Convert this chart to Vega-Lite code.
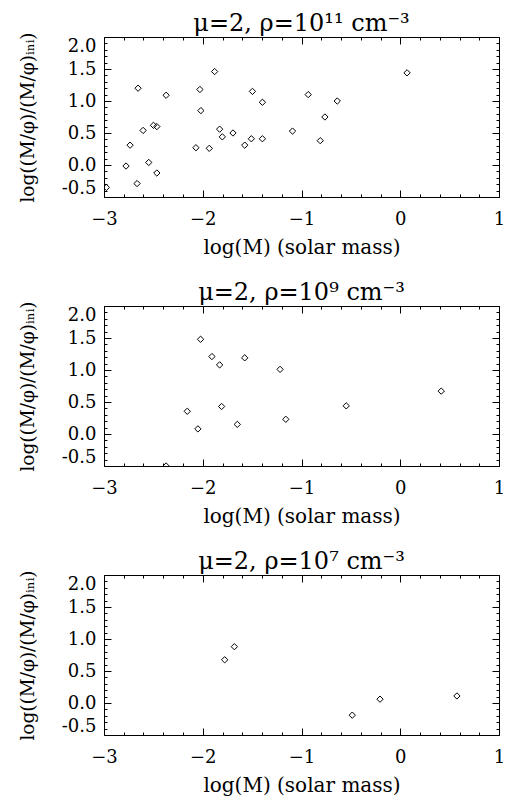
{
  "$schema": "https://vega.github.io/schema/vega-lite/v6.json",
  "background": "white",
  "padding": {"left": 17, "top": 11, "right": 14, "bottom": 0},
  "spacing": 109,
  "bounds": "flush",
  "config": {
    "font": "DejaVu Serif",
    "view": {"stroke": "black", "strokeWidth": 1},
    "axis": {"domain": false, "grid": false, "tickColor": "black", "tickWidth": 1, "labelColor": "black", "labelFont": "DejaVu Serif", "labelFontSize": 18, "titleFont": "DejaVu Serif", "titleFontSize": 20, "titleFontWeight": "normal", "titleColor": "black", "labelPadding": 20},
    "axisY": {"labelPadding": 15, "titleFontSize": 18.5},
    "title": {"font": "DejaVu Serif", "fontSize": 24, "fontWeight": "normal", "color": "black", "offset": -4}
  },
  "datasets": {
    "p1": [
      {"x": -2.976, "y": -0.35}, {"x": -2.777, "y": -0.016}, {"x": -2.736, "y": 0.31}, {"x": -2.665, "y": -0.29},
      {"x": -2.655, "y": 1.2}, {"x": -2.604, "y": 0.54}, {"x": -2.547, "y": 0.04}, {"x": -2.499, "y": 0.62},
      {"x": -2.465, "y": 0.6}, {"x": -2.465, "y": -0.125}, {"x": -2.371, "y": 1.09}, {"x": -2.069, "y": 0.27},
      {"x": -2.029, "y": 1.18}, {"x": -2.019, "y": 0.85}, {"x": -1.934, "y": 0.26}, {"x": -1.88, "y": 1.46},
      {"x": -1.829, "y": 0.56}, {"x": -1.802, "y": 0.44}, {"x": -1.694, "y": 0.5}, {"x": -1.575, "y": 0.31},
      {"x": -1.508, "y": 0.41}, {"x": -1.497, "y": 1.15}, {"x": -1.396, "y": 0.41}, {"x": -1.396, "y": 0.98},
      {"x": -1.091, "y": 0.53}, {"x": -0.932, "y": 1.1}, {"x": -0.81, "y": 0.38}, {"x": -0.763, "y": 0.75},
      {"x": -0.638, "y": 1.0}, {"x": 0.069, "y": 1.44}
    ],
    "p2": [
      {"x": -2.371, "y": -0.5}, {"x": -2.157, "y": 0.355}, {"x": -2.049, "y": 0.08}, {"x": -2.022, "y": 1.48},
      {"x": -1.907, "y": 1.21}, {"x": -1.829, "y": 1.08}, {"x": -1.809, "y": 0.43}, {"x": -1.65, "y": 0.15},
      {"x": -1.575, "y": 1.19}, {"x": -1.217, "y": 1.01}, {"x": -1.159, "y": 0.23}, {"x": -0.547, "y": 0.44},
      {"x": 0.415, "y": 0.67}
    ],
    "p3": [
      {"x": -1.778, "y": 0.675}, {"x": -1.68, "y": 0.88}, {"x": -0.486, "y": -0.19}, {"x": -0.205, "y": 0.06},
      {"x": 0.574, "y": 0.11}
    ]
  },
  "vconcat": [
    {
      "width": 395, "height": 160,
      "title": {"text": "μ=2, ρ=10¹¹ cm⁻³"},
      "data": {"name": "p1"},
      "layer": [
        {
          "mark": {"type": "point", "shape": "diamond", "filled": false, "stroke": "black", "strokeWidth": 1, "size": 40, "clip": true, "opacity": 1},
          "encoding": {
            "x": {"field": "x", "type": "quantitative", "scale": {"domain": [-3, 1], "nice": false, "zero": false},
              "axis": {"orient": "bottom", "values": [-3,-2.8,-2.6,-2.4,-2.2,-2,-1.8,-1.6,-1.4,-1.2,-1,-0.8,-0.6,-0.4,-0.2,0,0.2,0.4,0.6,0.8,1],
                "labelExpr": "abs(datum.value-round(datum.value))<0.001 ? (datum.value < -0.001 ? '−' + abs(round(datum.value)) : '' + round(datum.value)) : ''",
                "tickSize": {"condition": {"test": "abs(datum.value-round(datum.value))<0.001", "value": -7}, "value": -3},
                "title": "log(M) (solar mass)", "titlePadding": 9, "labelFlush": false}},
            "y": {"field": "y", "type": "quantitative", "scale": {"domain": [-0.5, 2.0], "nice": false, "zero": false},
              "axis": {"orient": "left", "values": [-0.5,-0.4,-0.3,-0.2,-0.1,0,0.1,0.2,0.3,0.4,0.5,0.6,0.7,0.8,0.9,1,1.1,1.2,1.3,1.4,1.5,1.6,1.7,1.8,1.9,2],
                "labelExpr": "abs(datum.value*2-round(datum.value*2))<0.001 ? replace(format(datum.value,'.1f'),'−','-') : ''",
                "tickSize": {"condition": {"test": "abs(datum.value*2-round(datum.value*2))<0.001", "value": -7}, "value": -3},
                "labelFlush": true, "title": "log((M/φ)/(M/φ)ᵢₙᵢ)", "titlePadding": 24}}
          }
        },
        {
          "mark": {"type": "point", "opacity": 0},
          "encoding": {
            "x": {"field": "x", "type": "quantitative",
              "axis": {"orient": "top", "values": [-3,-2.8,-2.6,-2.4,-2.2,-2,-1.8,-1.6,-1.4,-1.2,-1,-0.8,-0.6,-0.4,-0.2,0,0.2,0.4,0.6,0.8,1], "labels": false, "title": null,
                "tickSize": {"condition": {"test": "abs(datum.value-round(datum.value))<0.001", "value": -7}, "value": -3}}},
            "y": {"field": "y", "type": "quantitative",
              "axis": {"orient": "right", "values": [-0.5,-0.4,-0.3,-0.2,-0.1,0,0.1,0.2,0.3,0.4,0.5,0.6,0.7,0.8,0.9,1,1.1,1.2,1.3,1.4,1.5,1.6,1.7,1.8,1.9,2], "labels": false, "title": null,
                "tickSize": {"condition": {"test": "abs(datum.value*2-round(datum.value*2))<0.001", "value": -7}, "value": -3}}}
          }
        }
      ],
      "resolve": {"axis": {"x": "independent", "y": "independent"}}
    },
    {
      "width": 395, "height": 160,
      "title": {"text": "μ=2, ρ=10⁹ cm⁻³"},
      "data": {"name": "p2"},
      "layer": [
        {
          "mark": {"type": "point", "shape": "diamond", "filled": false, "stroke": "black", "strokeWidth": 1, "size": 40, "clip": true, "opacity": 1},
          "encoding": {
            "x": {"field": "x", "type": "quantitative", "scale": {"domain": [-3, 1], "nice": false, "zero": false},
              "axis": {"orient": "bottom", "values": [-3,-2.8,-2.6,-2.4,-2.2,-2,-1.8,-1.6,-1.4,-1.2,-1,-0.8,-0.6,-0.4,-0.2,0,0.2,0.4,0.6,0.8,1],
                "labelExpr": "abs(datum.value-round(datum.value))<0.001 ? (datum.value < -0.001 ? '−' + abs(round(datum.value)) : '' + round(datum.value)) : ''",
                "tickSize": {"condition": {"test": "abs(datum.value-round(datum.value))<0.001", "value": -7}, "value": -3},
                "title": "log(M) (solar mass)", "titlePadding": 9, "labelFlush": false}},
            "y": {"field": "y", "type": "quantitative", "scale": {"domain": [-0.5, 2.0], "nice": false, "zero": false},
              "axis": {"orient": "left", "values": [-0.5,-0.4,-0.3,-0.2,-0.1,0,0.1,0.2,0.3,0.4,0.5,0.6,0.7,0.8,0.9,1,1.1,1.2,1.3,1.4,1.5,1.6,1.7,1.8,1.9,2],
                "labelExpr": "abs(datum.value*2-round(datum.value*2))<0.001 ? replace(format(datum.value,'.1f'),'−','-') : ''",
                "tickSize": {"condition": {"test": "abs(datum.value*2-round(datum.value*2))<0.001", "value": -7}, "value": -3},
                "labelFlush": true, "title": "log((M/φ)/(M/φ)ᵢₙᵢ)", "titlePadding": 24}}
          }
        },
        {
          "mark": {"type": "point", "opacity": 0},
          "encoding": {
            "x": {"field": "x", "type": "quantitative",
              "axis": {"orient": "top", "values": [-3,-2.8,-2.6,-2.4,-2.2,-2,-1.8,-1.6,-1.4,-1.2,-1,-0.8,-0.6,-0.4,-0.2,0,0.2,0.4,0.6,0.8,1], "labels": false, "title": null,
                "tickSize": {"condition": {"test": "abs(datum.value-round(datum.value))<0.001", "value": -7}, "value": -3}}},
            "y": {"field": "y", "type": "quantitative",
              "axis": {"orient": "right", "values": [-0.5,-0.4,-0.3,-0.2,-0.1,0,0.1,0.2,0.3,0.4,0.5,0.6,0.7,0.8,0.9,1,1.1,1.2,1.3,1.4,1.5,1.6,1.7,1.8,1.9,2], "labels": false, "title": null,
                "tickSize": {"condition": {"test": "abs(datum.value*2-round(datum.value*2))<0.001", "value": -7}, "value": -3}}}
          }
        }
      ],
      "resolve": {"axis": {"x": "independent", "y": "independent"}}
    },
    {
      "width": 395, "height": 160,
      "title": {"text": "μ=2, ρ=10⁷ cm⁻³"},
      "data": {"name": "p3"},
      "layer": [
        {
          "mark": {"type": "point", "shape": "diamond", "filled": false, "stroke": "black", "strokeWidth": 1, "size": 40, "clip": true, "opacity": 1},
          "encoding": {
            "x": {"field": "x", "type": "quantitative", "scale": {"domain": [-3, 1], "nice": false, "zero": false},
              "axis": {"orient": "bottom", "values": [-3,-2.8,-2.6,-2.4,-2.2,-2,-1.8,-1.6,-1.4,-1.2,-1,-0.8,-0.6,-0.4,-0.2,0,0.2,0.4,0.6,0.8,1],
                "labelExpr": "abs(datum.value-round(datum.value))<0.001 ? (datum.value < -0.001 ? '−' + abs(round(datum.value)) : '' + round(datum.value)) : ''",
                "tickSize": {"condition": {"test": "abs(datum.value-round(datum.value))<0.001", "value": -7}, "value": -3},
                "title": "log(M) (solar mass)", "titlePadding": 9, "labelFlush": false}},
            "y": {"field": "y", "type": "quantitative", "scale": {"domain": [-0.5, 2.0], "nice": false, "zero": false},
              "axis": {"orient": "left", "values": [-0.5,-0.4,-0.3,-0.2,-0.1,0,0.1,0.2,0.3,0.4,0.5,0.6,0.7,0.8,0.9,1,1.1,1.2,1.3,1.4,1.5,1.6,1.7,1.8,1.9,2],
                "labelExpr": "abs(datum.value*2-round(datum.value*2))<0.001 ? replace(format(datum.value,'.1f'),'−','-') : ''",
                "tickSize": {"condition": {"test": "abs(datum.value*2-round(datum.value*2))<0.001", "value": -7}, "value": -3},
                "labelFlush": true, "title": "log((M/φ)/(M/φ)ᵢₙᵢ)", "titlePadding": 24}}
          }
        },
        {
          "mark": {"type": "point", "opacity": 0},
          "encoding": {
            "x": {"field": "x", "type": "quantitative",
              "axis": {"orient": "top", "values": [-3,-2.8,-2.6,-2.4,-2.2,-2,-1.8,-1.6,-1.4,-1.2,-1,-0.8,-0.6,-0.4,-0.2,0,0.2,0.4,0.6,0.8,1], "labels": false, "title": null,
                "tickSize": {"condition": {"test": "abs(datum.value-round(datum.value))<0.001", "value": -7}, "value": -3}}},
            "y": {"field": "y", "type": "quantitative",
              "axis": {"orient": "right", "values": [-0.5,-0.4,-0.3,-0.2,-0.1,0,0.1,0.2,0.3,0.4,0.5,0.6,0.7,0.8,0.9,1,1.1,1.2,1.3,1.4,1.5,1.6,1.7,1.8,1.9,2], "labels": false, "title": null,
                "tickSize": {"condition": {"test": "abs(datum.value*2-round(datum.value*2))<0.001", "value": -7}, "value": -3}}}
          }
        }
      ],
      "resolve": {"axis": {"x": "independent", "y": "independent"}}
    }
  ]
}
